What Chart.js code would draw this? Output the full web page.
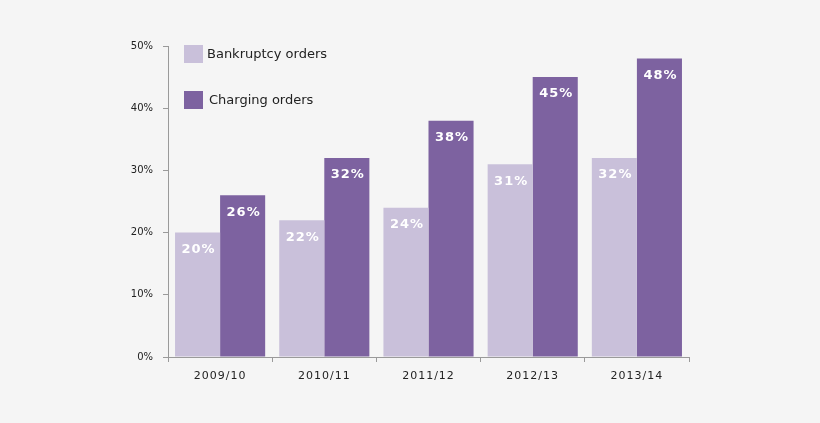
<!DOCTYPE html>
<html lang="en">
<head>
    <meta charset="UTF-8" />
    <title>Bankruptcy and charging orders</title>
    <script src="https://cdn.jsdelivr.net/npm/chart.js"></script>
    <style>
        body {
            margin: 0;
            padding: 0;
            background-color: #f5f5f5;
        }

        .chart-container {
            width: 820px;
            height: 423px;
            position: relative;
        }
    </style>
</head>
<body>
    <div class="chart-container">
        <canvas id="ordersChart"></canvas>
    </div>

    <script>
        const years = ['2009/10', '2010/11', '2011/12', '2012/13', '2013/14'];
        const bankruptcyOrders = [20, 22, 24, 31, 32];
        const chargingOrders = [26, 32, 38, 45, 48];
        const seriesNames = ['Bankruptcy orders', 'Charging orders'];
        const colors = ['#c9c0da', '#7d62a0'];

        const axisColor = '#9a9a9a';
        const fontFamily = '"DejaVu Sans", Verdana, sans-serif';

        // white percentage labels just inside the top of each bar
        const barLabels = {
            id: 'barLabels',
            afterDatasetsDraw(chart) {
                const ctx = chart.ctx;
                ctx.save();
                ctx.fillStyle = '#ffffff';
                ctx.font = 'bold 13px ' + fontFamily;
                ctx.letterSpacing = '1px';
                ctx.textAlign = 'center';
                ctx.textBaseline = 'middle';
                chart.data.datasets.forEach((ds, i) => {
                    chart.getDatasetMeta(i).data.forEach((bar, j) => {
                        ctx.fillText(ds.data[j] + '%', bar.x + 1, bar.y + 17);
                    });
                });
                ctx.restore();
            }
        };

        // stacked legend inside the plot, top left
        const innerLegend = {
            id: 'innerLegend',
            afterDraw(chart) {
                const ctx = chart.ctx;
                const left = chart.chartArea.left + 16;
                const top = chart.chartArea.top - 1;
                ctx.save();
                ctx.letterSpacing = '0px';
                ctx.font = '13px ' + fontFamily;
                ctx.textBaseline = 'middle';
                chart.data.datasets.forEach((ds, i) => {
                    const y = top + i * 46;
                    ctx.fillStyle = ds.backgroundColor;
                    ctx.fillRect(left, y, 19, 18);
                    ctx.fillStyle = '#222222';
                    ctx.fillText(ds.label, left + 23 + i * 2, y + 10);
                });
                ctx.restore();
            }
        };

        // wider letter spacing on the year labels only
        const spacedYears = {
            id: 'spacedYears',
            afterLayout(chart) {
                const xScale = chart.scales.x;
                if (xScale._spaced) return;
                const orig = xScale.drawLabels;
                xScale.drawLabels = function (area) {
                    chart.ctx.save();
                    chart.ctx.letterSpacing = '1px';
                    orig.call(this, area);
                    chart.ctx.restore();
                };
                xScale._spaced = true;
            }
        };

        const ctx = document.getElementById('ordersChart').getContext('2d');

        new Chart(ctx, {
            type: 'bar',
            data: {
                labels: years,
                datasets: [
                    {
                        label: seriesNames[0],
                        data: bankruptcyOrders,
                        backgroundColor: colors[0]
                    },
                    {
                        label: seriesNames[1],
                        data: chargingOrders,
                        backgroundColor: colors[1]
                    }
                ]
            },
            options: {
                responsive: true,
                maintainAspectRatio: false,
                animation: false,
                layout: {
                    padding: { top: 46, right: 131, left: 0, bottom: 0 }
                },
                datasets: {
                    bar: {
                        categoryPercentage: 0.865,
                        barPercentage: 1
                    }
                },
                scales: {
                    x: {
                        grid: {
                            offset: true,
                            drawOnChartArea: false,
                            color: axisColor,
                            tickLength: 5
                        },
                        border: { color: axisColor },
                        ticks: {
                            color: '#222222',
                            padding: 8,
                            font: { family: fontFamily, size: 11 }
                        },
                        afterFit: (scale) => { scale.height = 66; }
                    },
                    y: {
                        min: 0,
                        max: 50,
                        grid: {
                            drawOnChartArea: false,
                            color: axisColor,
                            tickLength: 5
                        },
                        border: { color: axisColor },
                        ticks: {
                            stepSize: 10,
                            color: '#222222',
                            padding: 10,
                            font: { family: fontFamily, size: 10 },
                            callback: (v) => v + '%'
                        },
                        afterFit: (scale) => { scale.width = 168; }
                    }
                },
                plugins: {
                    legend: { display: false },
                    tooltip: { enabled: false }
                }
            },
            plugins: [spacedYears, barLabels, innerLegend]
        });
    </script>
</body>
</html>
